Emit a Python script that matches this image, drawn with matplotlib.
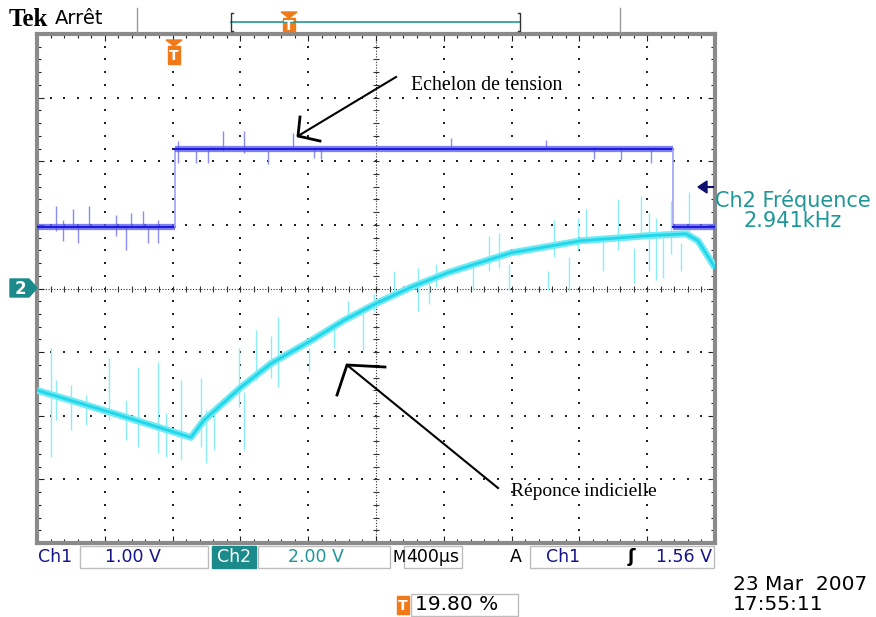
import numpy as np
import matplotlib.pyplot as plt
from matplotlib.patches import Rectangle, Polygon

# Tek scope capture: 400 us/div, Ch1 1.00 V/div, Ch2 2.00 V/div
# time in us from trigger, amplitudes in screen divisions

ch1_t = [-800, 15, 15, 2952, 2952, 3200]
ch1_div = [0.97, 0.97, 2.20, 2.20, 0.97, 0.97]

ch2_t = [-800, -363, 108, 185, 404, 580, 816, 1011, 1212, 1407, 1625,
         1996, 2409, 2805, 3029, 3100, 3200]
ch2_div = [-1.60, -1.95, -2.34, -2.07, -1.55, -1.18, -0.82, -0.50, -0.22,
           0.02, 0.25, 0.56, 0.75, 0.83, 0.86, 0.75, 0.33]

# glitches (time, bottom, top)
ch1_spike_t = [-688, -647, -588, -558, -493, -334, -275, -245, -175, -145, -86,
               32, 138, 209, 297, 421, 563, 710, 834, 876, 1643, 2203, 2486,
               2646, 2823]
ch1_spike_lo = [0.91, 0.75, 0.96, 0.71, 0.96, 0.83, 0.60, 0.96, 0.96, 0.71, 0.71,
                1.98, 1.98, 1.98, 2.16, 2.13, 1.96, 2.20, 2.05, 2.04, 2.20, 2.20, 2.04,
                2.02, 1.98]
ch1_spike_hi = [1.30, 1.07, 1.25, 1.02, 1.30, 1.15, 0.99, 1.18, 1.22, 0.96, 1.07,
                2.32, 2.16, 2.20, 2.48, 2.48, 2.16, 2.45, 2.20, 2.20, 2.36, 2.34, 2.22,
                2.20, 2.20]

ch2_spike_t = [-718, -688, -600, -511, -375, -275, -204, -86, -39, 50, 168, 197,
               244, 392, 421, 492, 581, 622, 805, 952, 1035, 1123, 1188, 1306,
               1448, 1513, 1554, 1772, 1867, 1926, 1985, 2215, 2250, 2339, 2392,
               2439, 2539, 2628, 2722, 2764, 2811, 2852, 2893, 2941, 3000, 3047]
ch2_spike_lo = [-2.65, -2.07, -2.23, -2.15, -2.07, -2.38, -2.49, -2.59, -2.65, -2.70,
                -2.49, -2.75, -2.54, -1.87, -2.54, -1.44, -1.40, -1.55, -1.29, -0.94,
                -0.50, -0.97, -0.35, -0.14, -0.35, -0.24, 0.02, -0.03, 0.28, 0.33,
                -0.03, -0.03, 0.49, -0.03, 0.60, 0.71, 0.28, 0.60, 0.08, 0.80, 0.28,
                0.13, 0.17, 0.55, 0.28, 0.80]
ch2_spike_hi = [-0.94, -1.44, -1.52, -1.68, -1.10, -1.76, -1.24, -1.16, -1.96, -1.44,
                -1.40, -1.91, -1.87, -0.93, -1.62, -0.66, -0.74, -0.45, -0.93, -0.61,
                -0.19, -0.35, -0.08, 0.28, 0.33, 0.17, 0.39, 0.44, 0.83, 0.88, 0.39,
                0.28, 1.07, 0.49, 1.11, 1.25, 0.80, 1.41, 0.64, 1.46, 1.18, 1.11, 0.80,
                1.38, 0.71, 1.51]

TEAL = '#1f9797'
NAVY = '#14148c'
ORANGE = '#f07a1a'

fig = plt.figure(figsize=(8.76, 6.17), dpi=100)
W, H = 876, 617
ax = fig.add_axes([37 / W, (H - 543) / H, 678 / W, 509 / H])
ax.set_xlim(-800, 3200)
ax.set_ylim(-4, 4)

# graticule
xs_fine = np.arange(-800, 3201, 80)
ys_fine = np.arange(-4, 4.01, 0.2)
for y in range(-3, 4):
    if y != 0:
        ax.plot(xs_fine, np.full(xs_fine.shape, y), ls='none', marker='s',
                ms=1.6, mew=0, color='#222222', zorder=1)
for x in range(-400, 3200, 400):
    if x != 1200:
        ax.plot(np.full(ys_fine.shape, x), ys_fine, ls='none', marker='s',
                ms=1.6, mew=0, color='#222222', zorder=1)
ax.axhline(0, color='#333333', lw=0.8, ls=(0, (1, 1.5)), zorder=1)
ax.axvline(1200, color='#333333', lw=0.8, ls=(0, (1, 1.5)), zorder=1)
ax.plot(xs_fine, np.zeros(xs_fine.shape), ls='none', marker='|', ms=5,
        mew=0.8, color='#333333', zorder=1)
ax.plot(np.full(ys_fine.shape, 1200), ys_fine, ls='none', marker='_', ms=5,
        mew=0.8, color='#333333', zorder=1)

for s in ax.spines.values():
    s.set_color('#8a8a8a')
    s.set_linewidth(3)
ax.set_xticks(np.arange(-800, 3201, 400))
ax.set_yticks(np.arange(-4, 4.01, 1))
ax.set_xticks(xs_fine, minor=True)
ax.set_yticks(ys_fine, minor=True)
ax.tick_params(which='both', direction='in', top=True, right=True,
               labelbottom=False, labelleft=False, color='#222222', width=0.8)
ax.tick_params(which='major', length=5)
ax.tick_params(which='minor', length=3)

# Ch1 trace: thick levels, thin edges
ax.vlines(ch1_spike_t, ch1_spike_lo, ch1_spike_hi, color='#8c8cf2', lw=1, zorder=2)
for i in range(len(ch1_t) - 1):
    seg_t = ch1_t[i:i + 2]
    seg_v = ch1_div[i:i + 2]
    if seg_v[0] == seg_v[1]:
        ax.plot(seg_t, seg_v, color='#6060f0', lw=4.5, alpha=0.8,
                solid_capstyle='butt', zorder=3)
        ax.plot(seg_t, seg_v, color='#1c1cd8', lw=1.5, zorder=3)
    else:
        ax.plot(seg_t, seg_v, color='#a0a0f4', lw=1.2, zorder=3)

# Ch2 trace
ax.vlines(ch2_spike_t, ch2_spike_lo, ch2_spike_hi, color='#8aeef6', lw=1, zorder=2)
ax.plot(ch2_t, ch2_div, color='#70eaf4', lw=5, solid_capstyle='butt', zorder=3)
ax.plot(ch2_t, ch2_div, color='#22d6ea', lw=2, zorder=3)

# overlay in pixel units for the scope readouts
ov = fig.add_axes([0, 0, 1, 1])
ov.set_xlim(0, W)
ov.set_ylim(H, 0)
ov.axis('off')


def box(x0, y0, x1, y1, fc='none', ec='#bdbdbd'):
    ov.add_patch(Rectangle((x0, y0), x1 - x0, y1 - y0, fc=fc, ec=ec, lw=1))


def tmarker(x, y0, y1, tri=True):
    if tri:
        ov.add_patch(Polygon([(x - 8, y0), (x + 8, y0), (x, y0 + 6)], color=ORANGE))
        y0 += 6
    ov.add_patch(Rectangle((x - 6, y0), 12, y1 - y0, color=ORANGE))
    ov.text(x, (y0 + y1) / 2 + 1, 'T', color='white', fontsize=10,
            fontweight='bold', ha='center', va='center')


# header
ov.text(9, 19, 'Tek', fontsize=18, fontweight='bold', family='Liberation Serif',
        va='center')
ov.text(55, 18, 'Arrêt', fontsize=14, va='center')
ov.plot([137, 137], [8, 33], color='#9a9a9a', lw=1)
ov.plot([620, 620], [8, 33], color='#9a9a9a', lw=1)
ov.plot([231, 520], [22, 22], color=TEAL, lw=1.2)
ov.plot([233, 231, 231, 233], [13, 13, 31, 31], color='#333333', lw=1)
ov.plot([518, 520, 520, 518], [13, 13, 31, 31], color='#333333', lw=1)
tmarker(289, 12, 31)
tmarker(174, 40, 64)

# channel markers
ov.add_patch(Polygon([(10, 279), (29, 279), (37, 288), (29, 297), (10, 297)],
                     color='#1b8a8a'))
ov.text(20, 289, '2', color='white', fontsize=12, fontweight='bold',
        ha='center', va='center')
ov.add_patch(Polygon([(698, 187), (707, 181), (707, 193)], color='#10106e'))
ov.plot([706, 713], [187, 187], color='#10106e', lw=1.5)
ov.text(793, 200, 'Ch2 Fréquence', color=TEAL, fontsize=15, ha='center', va='center')
ov.text(793, 221, '2.941kHz', color=TEAL, fontsize=15, ha='center', va='center')

# hand-drawn annotations
ov.plot([396, 298], [77, 136], color='black', lw=1.5)
ov.plot([300, 298, 320], [117, 136, 141], color='black', lw=2)
ov.text(411, 86, 'Echelon de tension', family='Liberation Serif', fontsize=14.3,
        va='center')
ov.plot([498, 347], [488, 365], color='black', lw=1.5)
ov.plot([337, 347, 385], [395, 365, 367], color='black', lw=2)
ov.text(511, 492, 'Réponce indicielle', family='Liberation Serif', fontsize=14,
        va='center')

# status line
sy = 557
ov.text(38, sy, 'Ch1', color=NAVY, fontsize=12.5, va='center')
box(80, 546, 208, 568)
ov.text(133, sy, '1.00 V', color=NAVY, fontsize=12.5, ha='center', va='center')
ov.add_patch(Rectangle((212, 546), 44, 22, color='#1b8a8a'))
ov.text(234, sy, 'Ch2', color='white', fontsize=12.5, ha='center', va='center')
box(258, 546, 390, 568)
ov.text(316, sy, '2.00 V', color=TEAL, fontsize=12.5, ha='center', va='center')
ov.text(392, sy, 'M', fontsize=11, va='center')
box(404, 546, 462, 568)
ov.text(433, sy, '400µs', fontsize=12.5, ha='center', va='center')
ov.text(510, sy, 'A', fontsize=12.5, va='center')
box(530, 546, 714, 568)
ov.text(546, sy, 'Ch1', color=NAVY, fontsize=12.5, va='center')
ov.text(631, sy, 'ʃ', color='black', fontsize=13, fontweight='bold', ha='center',
        va='center')
ov.text(712, sy, '1.56 V', color=NAVY, fontsize=12.5, ha='right', va='center')

tmarker(403, 596, 614, tri=False)
box(411, 594, 518, 616)
ov.text(415, 605, '19.80 %', fontsize=14.5, va='center')
ov.text(733, 584, '23 Mar  2007', fontsize=14.5, va='center')
ov.text(733, 604, '17:55:11', fontsize=14.5, va='center')

fig.savefig('out.png', dpi=100)
